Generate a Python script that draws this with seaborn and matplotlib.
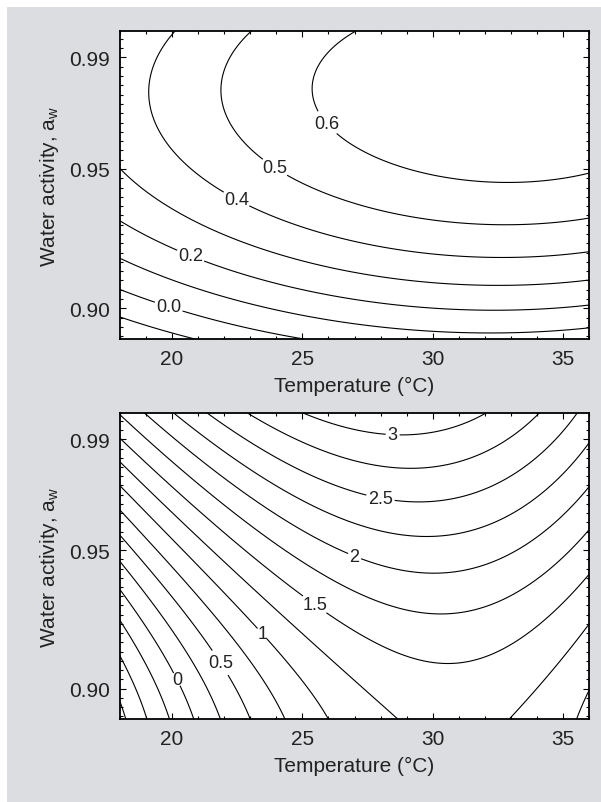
import numpy as np
import matplotlib
matplotlib.use("Agg")
import matplotlib.pyplot as plt
import matplotlib.patches as mpatches
import seaborn as sns
from matplotlib.ticker import FixedLocator

sns.set_theme(style="ticks")
plt.rcParams["font.family"] = ["Liberation Sans", "DejaVu Sans"]
plt.rcParams["mathtext.fontset"] = "custom"
plt.rcParams["mathtext.rm"] = "Liberation Sans"
plt.rcParams["contour.negative_linestyle"] = "solid"

# ==================================
# AXIS SETTINGS
# ==================================
T_RANGE = (18, 36)
AW_RANGE = (0.889, 0.9995)
X_TICKS = [20, 25, 30, 35]
Y_TICKS = [0.90, 0.95, 0.99]
Y_TICK_LABELS = ["0.90", "0.95", "0.99"]

# ==================================
# TOP PANEL
# ==================================
TOP_T = [26.93, 25.31, 26.02, 28.12, 32.27, 36.0,
         23.02, 21.83, 23.98, 28.12, 31.38, 36.0,
         20.13, 19.24, 22.47, 28.12, 31.38, 36.0,
         18.0, 25.16, 36.0,
         18.0, 20.72, 28.12, 36.0,
         18.0, 23.68, 36.0,
         18.0, 19.94, 24.27,
         18.0, 20.58]
TOP_AW = [0.9995, 0.9786, 0.9672, 0.9535, 0.9454, 0.9493,
          0.9995, 0.9762, 0.9511, 0.9344, 0.9296, 0.9330,
          0.9995, 0.9750, 0.9392, 0.9213, 0.9183, 0.9195,
          0.9499, 0.9153, 0.9095,
          0.9300, 0.9191, 0.9045, 0.9015,
          0.9171, 0.9000, 0.8932,
          0.9067, 0.9027, 0.8890,
          0.8974, 0.8890]
TOP_Z = [0.6] * 6 + [0.5] * 6 + [0.4] * 6 + [0.3] * 3 + [0.2] * 4 + [0.1] * 3 + [0.0] * 3 + [-0.1] * 2

TOP_PLAIN = [-0.1, 0.1, 0.3]
TOP_LABELLED = [0.0, 0.2, 0.4, 0.5, 0.6]
TOP_LABEL_POS = [(19.94, 0.9027), (20.72, 0.9191), (22.47, 0.9392),
                 (23.98, 0.9511), (26.02, 0.9672)]

# ==================================
# BOTTOM PANEL
# ==================================
BOT_T = [18.0] * 11 + \
        [18.2, 18.9, 19.8, 20.7, 21.87, 23.06, 24.39, 26.24, 29.8, 32.17, 35.68] + \
        [18.92, 20.2, 21.58, 23.5, 32.3, 34.15, 35.6] + \
        [36.0] * 6 + \
        [28.5, 29.0, 28.8, 29.4, 29.4, 29.9, 30.25] + \
        [28.46, 28.0, 27.05, 25.42, 23.35, 21.73, 20.03]
BOT_AW = [0.9965, 0.9893, 0.9827, 0.9730, 0.9640, 0.9550, 0.9459, 0.9363, 0.9255, 0.9140, 0.9026] + \
         [0.889] * 11 + \
         [0.9995] * 7 + \
         [0.8952, 0.9215, 0.9421, 0.9594, 0.9751, 0.9890] + \
         [0.9895, 0.9787, 0.9674, 0.9550, 0.9414, 0.9263, 0.9085] + \
         [0.9907, 0.9690, 0.9489, 0.9297, 0.9189, 0.9086, 0.9026]
BOT_Z = [1.75, 1.5, 1.25, 1.0, 0.75, 0.5, 0.25, 0.0, -0.25, -0.5, -0.75] + \
        [-0.75, -0.5, -0.25, 0.0, 0.25, 0.5, 0.75, 1.0, 1.25, 1.25, 1.0] + \
        [2.0, 2.25, 2.5, 2.75, 3.0, 2.75, 2.5] + \
        [1.0, 1.25, 1.5, 1.75, 2.0, 2.25] + \
        [3.0, 2.75, 2.5, 2.25, 2.0, 1.75, 1.5] + \
        [3.0, 2.5, 2.0, 1.5, 1.0, 0.5, 0.0]

BOT_PLAIN = [-0.75, -0.5, -0.25, 0.25, 0.75, 1.25, 1.75, 2.25, 2.75]
BOT_LABELLED = [0.0, 0.5, 1.0, 1.5, 2.0, 2.5, 3.0]
BOT_LABEL_POS = [(20.03, 0.9026), (21.73, 0.9086), (23.35, 0.9189), (25.42, 0.9297),
                 (27.05, 0.9489), (28.0, 0.9690), (28.46, 0.9907)]


# ==================================
# RESPONSE SURFACE (cubic fit to traced points)
# ==================================
def design(T, aw):
    t = (np.asarray(T, dtype=float) - 27.0) / 9.0
    a = (np.asarray(aw, dtype=float) - 0.945) / 0.055
    return np.column_stack([np.ones_like(t), t, a, t * t, t * a, a * a,
                            t ** 3, t * t * a, t * a * a, a ** 3])


def surface(T, aw, z):
    coef, *_ = np.linalg.lstsq(design(T, aw), np.asarray(z), rcond=None)
    tg = np.linspace(*T_RANGE, 300)
    ag = np.linspace(*AW_RANGE, 300)
    TT, AA = np.meshgrid(tg, ag)
    ZZ = (design(TT.ravel(), AA.ravel()) @ coef).reshape(TT.shape)
    return TT, AA, ZZ


def style_axes(ax):
    ax.set_facecolor("white")
    ax.set_xlim(*T_RANGE)
    ax.set_ylim(*AW_RANGE)
    ax.xaxis.set_major_locator(FixedLocator(X_TICKS))
    ax.xaxis.set_minor_locator(FixedLocator(np.arange(18, 37, 1)))
    ax.yaxis.set_major_locator(FixedLocator(Y_TICKS))
    ax.set_yticklabels(Y_TICK_LABELS)
    ax.yaxis.set_minor_locator(FixedLocator(0.99 - np.arange(-3, 31) / 300.0))
    ax.tick_params(which="both", direction="in", top=True, right=True,
                   color="black", width=0.8, labelsize=15, labelcolor="#222222", pad=7)
    ax.tick_params(which="major", length=4)
    ax.tick_params(which="minor", length=2.5)
    for sp in ax.spines.values():
        sp.set_color("black")
        sp.set_linewidth(1.3)
    ax.set_xlabel("Temperature (°C)", fontsize=15, color="#222222", labelpad=6)
    ax.set_ylabel(r"Water activity, a$_\mathrm{w}$", fontsize=15, color="#222222", labelpad=6)


def draw_panel(ax, T, aw, z, plain, labelled, positions, fmt):
    TT, AA, ZZ = surface(T, aw, z)
    ax.contour(TT, AA, ZZ, levels=plain, colors="black", linewidths=0.8,
               linestyles="solid")
    cs = ax.contour(TT, AA, ZZ, levels=labelled, colors="black", linewidths=0.8,
                    linestyles="solid")
    texts = ax.clabel(cs, manual=positions, inline=True, inline_spacing=2,
                      fmt=fmt, fontsize=13, colors="#222222")
    for t in texts:
        t.set_rotation(0)
    style_axes(ax)


fig = plt.figure(figsize=(6.01, 8.03), dpi=100, facecolor="white")
fig.add_artist(mpatches.Rectangle((7 / 601, 0), 1, 1 - 8 / 803, transform=fig.transFigure,
                                  facecolor="#dcdde0", edgecolor="none", zorder=0))

ax1 = fig.add_axes([120 / 601, 1 - 340 / 803, 469 / 601, 308 / 803])
ax2 = fig.add_axes([120 / 601, 1 - 720 / 803, 469 / 601, 306 / 803])

draw_panel(ax1, TOP_T, TOP_AW, TOP_Z, TOP_PLAIN, TOP_LABELLED, TOP_LABEL_POS,
           lambda v: f"{v:.1f}")
draw_panel(ax2, BOT_T, BOT_AW, BOT_Z, BOT_PLAIN, BOT_LABELLED, BOT_LABEL_POS,
           lambda v: f"{v:g}")

fig.savefig("out.png", dpi=100, facecolor=fig.get_facecolor())
